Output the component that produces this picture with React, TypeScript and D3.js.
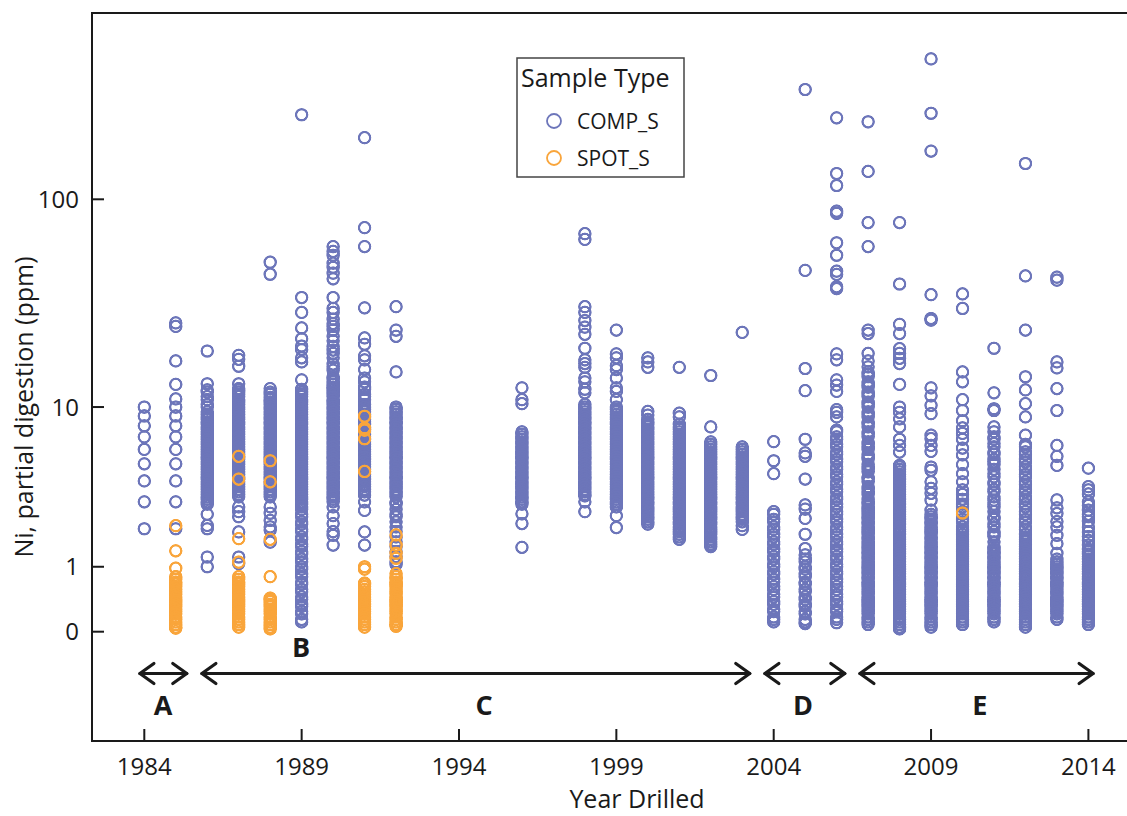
import React from "react";
import * as d3 from "d3";

// ---------------- data ----------------
const xTickValues = [1984, 1989, 1994, 1999, 2004, 2009, 2014];
const yTickValues = [0, 1, 10, 100];
const yTickLabels = ["0", "1", "10", "100"];
const seriesNames = ["COMP_S", "SPOT_S"];
const seriesColors = ["#6d76ba", "#f9a53b"];

const periodNames = ["A", "B", "C", "D", "E"];
const periodLabelYears = [1984.6, 1988.98, 1994.8, 2004.93, 2010.55];
const arrowStartYears = [1983.86, 1985.83, 2003.72, 2006.74];
const arrowEndYears = [1985.35, 2003.24, 2006.26, 2014.15];

// COMP_S values (ppm) per drilling year
const comp1984 = [10, 9, 8, 7, 6, 5, 4, 3, 2];
const comp1985 = [26, 25, 17, 13, 11, 10, 9, 8, 7, 6, 5, 4, 3, 2];
const comp1986 = [19, 13.1, 12.2, 11.9, 11.3, 10.9, 10.3, 10.0, 9.45, 9.17, 8.9, 8.65, 8.39, 8.15, 7.9, 7.67, 7.44, 7.22, 7.0, 6.79, 6.59, 6.39, 6.19, 6.0, 5.82, 5.64, 5.47, 5.3, 5.13, 4.97, 4.81, 4.66, 4.51, 4.36, 4.22, 4.09, 3.95, 3.82, 3.7, 3.57, 3.45, 3.33, 3.22, 3.11, 3.0, 2.9, 2.5, 2.11, 2.0, 1.22, 1.0];
const comp1987 = [18.1, 17.3, 16, 13.1, 12.4, 12.2, 11.9, 11.6, 11.3, 10.9, 10.6, 10.3, 10.0, 9.73, 9.45, 9.17, 8.9, 8.65, 8.39, 8.15, 7.9, 7.67, 7.44, 7.22, 7.0, 6.79, 6.59, 6.39, 6.19, 6.0, 5.82, 5.64, 5.47, 5.3, 5.13, 4.97, 4.81, 4.66, 4.51, 4.36, 4.22, 4.09, 3.95, 3.82, 3.7, 3.57, 3.45, 3.33, 3.22, 2.79, 2.6, 2.41, 1.9, 1.22, 1.07];
const comp1988 = [50.6, 44.4, 12.4, 11.9, 11.6, 11.2, 10.9, 10.6, 10.3, 10.0, 9.73, 9.45, 9.17, 8.9, 8.65, 8.39, 8.15, 7.9, 7.67, 7.44, 7.22, 7.0, 6.79, 6.59, 6.39, 6.19, 6.0, 5.82, 5.64, 5.47, 5.3, 5.13, 4.97, 4.81, 4.66, 4.51, 4.36, 4.22, 4.09, 3.95, 3.82, 3.7, 3.57, 3.45, 3.33, 3.22, 2.79, 2.54, 2.28, 2.06, 1.96, 1.6];
const comp1989 = [248, 34.4, 29.2, 24.6, 21.8, 20.1, 19.3, 17.6, 16.8, 13.7, 12.3, 11.9, 11.6, 11.3, 10.9, 10.6, 10.3, 10.0, 9.73, 9.45, 9.17, 8.9, 8.65, 8.39, 8.15, 7.9, 7.67, 7.44, 7.22, 7.0, 6.79, 6.59, 6.39, 6.19, 6.0, 5.82, 5.64, 5.47, 5.3, 5.13, 4.97, 4.81, 4.66, 4.51, 4.36, 4.22, 4.09, 3.95, 3.82, 3.7, 3.57, 3.45, 3.33, 3.22, 3.11, 3.0, 2.9, 2.79, 2.69, 2.5, 2.41, 2.23, 2.15, 1.98, 1.91, 1.75, 1.68, 1.54, 1.48, 1.35, 1.29, 1.17, 1.11, 1.0, 0.95, 0.85, 0.8, 0.7, 0.66, 0.57, 0.53, 0.45, 0.41, 0.34, 0.31, 0.24, 0.21, 0.14, 0.11];
const comp1990 = [60, 56.9, 54.6, 50.1, 47.9, 44.9, 42.2, 34.4, 30.5, 29.2, 27.1, 25.8, 25, 24, 22.4, 21.3, 20, 19.2, 18.5, 17.6, 16.4, 15.9, 15.3, 14.2, 13.8, 13.4, 13.0, 12.6, 12.3, 11.9, 11.6, 11.3, 10.9, 10.6, 10.3, 10.0, 9.73, 9.45, 9.17, 8.9, 8.65, 8.39, 8.15, 7.9, 7.67, 7.44, 7.22, 7.0, 6.79, 6.59, 6.39, 6.19, 6.0, 5.82, 5.64, 5.47, 5.3, 5.13, 4.97, 4.81, 4.66, 4.51, 4.36, 4.22, 4.09, 3.95, 3.82, 3.7, 3.57, 3.45, 3.33, 3.22, 3.11, 3.0, 2.79, 2.45, 2.17, 1.91, 1.8, 1.52];
const comp1991 = [194, 73.6, 60, 30.7, 22, 20.5, 18, 17.2, 15.4, 14.0, 13.4, 12.6, 12.3, 11.6, 11.3, 10.9, 10.3, 10.0, 9.73, 9.45, 9.17, 8.9, 8.65, 8.39, 8.15, 7.9, 7.67, 7.44, 7.22, 7.0, 6.79, 6.59, 6.39, 6.19, 6.0, 5.82, 5.64, 5.47, 5.3, 5.13, 4.97, 4.81, 4.66, 4.51, 4.36, 4.22, 4.09, 3.95, 3.82, 3.7, 3.57, 3.45, 3.3, 3.0, 2.65, 1.9, 1.52];
const comp1992 = [31.1, 24, 22.4, 15, 10.0, 9.73, 9.45, 9.17, 8.9, 8.65, 8.39, 8.15, 7.9, 7.67, 7.44, 7.22, 7.0, 6.79, 6.59, 6.39, 6.19, 6.0, 5.82, 5.64, 5.47, 5.3, 5.13, 4.97, 4.81, 4.66, 4.51, 4.36, 4.22, 4.09, 3.95, 3.82, 3.7, 3.57, 3.45, 3.33, 3.22, 3.0, 2.9, 2.69, 2.5, 2.41, 2.23, 2.06, 1.91, 1.75, 1.61, 1.48, 1.35, 1.23, 1.11, 1.05];
const comp1996 = [12.5, 10.9, 10.4, 7.44, 7.22, 7.0, 6.79, 6.59, 6.39, 6.19, 6.0, 5.82, 5.64, 5.47, 5.3, 5.13, 4.97, 4.81, 4.66, 4.51, 4.36, 4.22, 4.09, 3.95, 3.82, 3.7, 3.57, 3.45, 3.33, 3.22, 3.11, 3.0, 2.9, 2.52, 2.17, 1.46];
const comp1998 = [69, 64.8, 31.1, 29.2, 26.7, 24.8, 22.9, 19.6, 17.2, 16.5, 15.8, 14.0, 13.4, 12.3, 11.8, 10.3, 10.0, 9.73, 9.45, 9.17, 8.9, 8.65, 8.39, 8.15, 7.9, 7.67, 7.44, 7.22, 7.0, 6.79, 6.59, 6.39, 6.19, 6.0, 5.82, 5.64, 5.47, 5.3, 5.13, 4.97, 4.81, 4.66, 4.51, 4.36, 4.22, 4.09, 3.95, 3.82, 3.7, 3.57, 3.45, 3.33, 3.26, 3.0, 2.6];
const comp1999 = [24, 18.4, 17.6, 16.1, 15.4, 14.0, 12.5, 12.0, 10.9, 10.0, 9.73, 9.45, 9.17, 8.9, 8.65, 8.39, 8.15, 7.9, 7.67, 7.44, 7.22, 7.0, 6.79, 6.59, 6.39, 6.19, 6.0, 5.82, 5.64, 5.47, 5.3, 5.13, 4.97, 4.81, 4.66, 4.51, 4.36, 4.22, 4.09, 3.95, 3.82, 3.7, 3.57, 3.45, 3.33, 3.22, 3.11, 3.0, 2.9, 2.79, 2.45, 2.04];
const comp2000 = [17.6, 16.8, 15.8, 9.5, 9.1, 8.65, 8.39, 8.15, 7.9, 7.67, 7.44, 7.22, 7.0, 6.79, 6.59, 6.39, 6.19, 6.0, 5.82, 5.64, 5.47, 5.3, 5.13, 4.97, 4.81, 4.66, 4.51, 4.36, 4.22, 4.09, 3.95, 3.82, 3.7, 3.57, 3.45, 3.33, 3.22, 3.11, 3.0, 2.9, 2.79, 2.69, 2.6, 2.5, 2.41, 2.32, 2.23, 2.15];
const comp2001 = [15.8, 9.3, 8.9, 8.15, 7.9, 7.67, 7.44, 7.22, 7.0, 6.79, 6.59, 6.39, 6.19, 6.0, 5.82, 5.64, 5.47, 5.3, 5.13, 4.97, 4.81, 4.66, 4.51, 4.36, 4.22, 4.09, 3.95, 3.82, 3.7, 3.57, 3.45, 3.33, 3.22, 3.11, 3.0, 2.9, 2.79, 2.69, 2.6, 2.5, 2.41, 2.32, 2.23, 2.15, 2.06, 1.98, 1.91, 1.83, 1.75, 1.68];
const comp2002 = [14.4, 7.9, 6.59, 6.39, 6.19, 6.0, 5.82, 5.64, 5.47, 5.3, 5.13, 4.97, 4.81, 4.66, 4.51, 4.36, 4.22, 4.09, 3.95, 3.82, 3.7, 3.57, 3.45, 3.33, 3.22, 3.11, 3.0, 2.9, 2.79, 2.69, 2.6, 2.5, 2.41, 2.32, 2.23, 2.15, 2.06, 1.98, 1.91, 1.83, 1.75, 1.68, 1.61, 1.54, 1.48];
const comp2003 = [23.4, 6.19, 6.0, 5.82, 5.64, 5.47, 5.3, 5.13, 4.97, 4.81, 4.66, 4.51, 4.36, 4.22, 4.09, 3.95, 3.82, 3.7, 3.57, 3.45, 3.33, 3.22, 3.11, 3.0, 2.9, 2.79, 2.69, 2.6, 2.5, 2.41, 2.32, 2.23, 2.1, 1.98];
const comp2004 = [6.6, 5.2, 4.4, 2.6, 2.5, 2.32, 2.23, 2.06, 1.98, 1.83, 1.75, 1.61, 1.54, 1.41, 1.35, 1.23, 1.17, 1.05, 1.0, 0.9, 0.85, 0.75, 0.7, 0.62, 0.57, 0.49, 0.45, 0.38, 0.34, 0.27, 0.24, 0.17, 0.14, 0.11];
const comp2005 = [325, 46.3, 15.6, 12.1, 6.8, 5.74, 5.5, 4.1, 2.87, 2.7, 2.35, 1.83, 1.43, 1.27, 1.17, 1.11, 1.0, 0.95, 0.85, 0.8, 0.7, 0.66, 0.57, 0.53, 0.45, 0.41, 0.34, 0.31, 0.24, 0.21, 0.14, 0.11, 0.09];
const comp2006 = [240, 132, 116, 88, 86, 62.5, 54.6, 45.9, 44.3, 38.7, 37.9, 18.4, 17.2, 13.7, 12.9, 12.0, 9.7, 9.4, 8.9, 7.6, 7.44, 7.0, 6.79, 6.39, 6.19, 5.82, 5.64, 5.3, 5.13, 4.81, 4.66, 4.36, 4.22, 3.95, 3.82, 3.57, 3.45, 3.22, 3.11, 2.9, 2.79, 2.6, 2.5, 2.32, 2.23, 2.06, 1.98, 1.83, 1.75, 1.61, 1.54, 1.41, 1.35, 1.23, 1.17, 1.05, 1.0, 0.9, 0.85, 0.75, 0.7, 0.62, 0.57, 0.49, 0.45, 0.38, 0.34, 0.27, 0.24, 0.17, 0.14, 0.1];
const comp2007 = [230, 135, 77.8, 60, 24, 23.1, 18.5, 17.0, 15.9, 15.0, 14.6, 14.2, 13.4, 13.0, 12.6, 11.9, 11.6, 11.3, 10.6, 10.3, 10.0, 9.45, 9.17, 8.9, 8.39, 8.15, 7.9, 7.44, 7.22, 7.0, 6.59, 6.39, 6.19, 6.0, 5.64, 5.47, 5.3, 4.97, 4.81, 4.66, 4.51, 4.22, 4.09, 3.95, 3.7, 3.57, 3.45, 3.33, 3.11, 3.0, 2.9, 2.79, 2.69, 2.6, 2.5, 2.41, 2.32, 2.23, 2.15, 2.06, 1.98, 1.91, 1.83, 1.75, 1.68, 1.61, 1.54, 1.48, 1.41, 1.35, 1.29, 1.23, 1.17, 1.11, 1.05, 1.0, 0.95, 0.9, 0.85, 0.8, 0.75, 0.7, 0.66, 0.62, 0.57, 0.53, 0.49, 0.45, 0.41, 0.38, 0.34, 0.31, 0.27, 0.24, 0.21, 0.17, 0.14, 0.11, 0.08];
const comp2008 = [77.8, 39.9, 25.6, 23.1, 19.5, 18.5, 17.5, 16.5, 13.0, 10.0, 9.4, 8.7, 7.9, 6.8, 6.3, 5.8, 4.9, 4.81, 4.66, 4.51, 4.36, 4.22, 4.09, 3.95, 3.82, 3.7, 3.57, 3.45, 3.33, 3.22, 3.11, 3.0, 2.9, 2.79, 2.69, 2.6, 2.5, 2.41, 2.32, 2.23, 2.15, 2.06, 1.98, 1.91, 1.83, 1.75, 1.68, 1.61, 1.54, 1.48, 1.41, 1.35, 1.29, 1.23, 1.17, 1.11, 1.05, 1.0, 0.95, 0.9, 0.85, 0.8, 0.75, 0.7, 0.66, 0.62, 0.57, 0.53, 0.49, 0.45, 0.41, 0.38, 0.34, 0.31, 0.27, 0.24, 0.21, 0.17, 0.14, 0.11, 0.08, 0.05, 0.03];
const comp2009 = [451, 252, 168, 35.5, 27.3, 26.8, 12.5, 11.4, 10.2, 9.25, 7.15, 6.85, 6.3, 5.85, 4.8, 4.6, 3.95, 3.62, 3.38, 3.07, 2.66, 2.5, 2.41, 2.32, 2.23, 2.15, 2.06, 1.98, 1.91, 1.83, 1.75, 1.68, 1.61, 1.54, 1.48, 1.41, 1.35, 1.29, 1.23, 1.17, 1.11, 1.05, 1.0, 0.95, 0.9, 0.85, 0.8, 0.75, 0.7, 0.66, 0.62, 0.57, 0.53, 0.49, 0.45, 0.41, 0.38, 0.34, 0.31, 0.27, 0.24, 0.21, 0.17, 0.14, 0.11, 0.08, 0.05];
const comp2010 = [35.8, 30.5, 15.0, 13.4, 10.9, 9.6, 8.5, 7.8, 7.3, 6.8, 6.1, 5.6, 4.95, 4.4, 3.95, 3.54, 3.33, 3.11, 2.9, 2.79, 2.6, 2.5, 2.32, 2.23, 2.06, 1.98, 1.91, 1.83, 1.75, 1.68, 1.61, 1.54, 1.48, 1.41, 1.35, 1.29, 1.23, 1.17, 1.11, 1.05, 1.0, 0.95, 0.9, 0.85, 0.8, 0.75, 0.7, 0.66, 0.62, 0.57, 0.53, 0.49, 0.45, 0.41, 0.38, 0.34, 0.31, 0.27, 0.24, 0.21, 0.17, 0.14, 0.11, 0.08];
const comp2011 = [19.6, 11.8, 9.8, 9.6, 7.9, 7.45, 7.0, 6.79, 6.45, 6.19, 5.82, 5.64, 5.3, 5.13, 4.95, 4.66, 4.4, 4.22, 3.95, 3.82, 3.57, 3.45, 3.22, 3.07, 2.9, 2.79, 2.6, 2.41, 2.32, 2.15, 2.06, 1.91, 1.83, 1.76, 1.61, 1.48, 1.41, 1.35, 1.29, 1.23, 1.17, 1.11, 1.05, 1.0, 0.95, 0.9, 0.85, 0.8, 0.75, 0.7, 0.66, 0.62, 0.57, 0.53, 0.49, 0.45, 0.41, 0.38, 0.34, 0.31, 0.27, 0.24, 0.21, 0.17, 0.14, 0.11];
const comp2012 = [147, 43.6, 24, 14.2, 12.2, 10.4, 8.9, 7.15, 6.39, 6.19, 5.82, 5.64, 5.3, 5.13, 4.81, 4.66, 4.36, 4.22, 3.95, 3.82, 3.57, 3.45, 3.22, 3.11, 2.9, 2.79, 2.6, 2.5, 2.32, 2.23, 2.06, 1.98, 1.83, 1.75, 1.68, 1.61, 1.54, 1.48, 1.41, 1.35, 1.29, 1.23, 1.17, 1.11, 1.05, 1.0, 0.95, 0.9, 0.85, 0.8, 0.75, 0.7, 0.66, 0.62, 0.57, 0.53, 0.49, 0.45, 0.41, 0.38, 0.34, 0.31, 0.27, 0.24, 0.21, 0.17, 0.14, 0.11, 0.08, 0.05];
const comp2013 = [43, 41.6, 16.8, 15.7, 12.4, 9.6, 6.3, 5.5, 4.9, 3.08, 2.75, 2.53, 2.24, 2.06, 1.8, 1.56, 1.31, 1.17, 1.11, 1.05, 1.0, 0.95, 0.9, 0.85, 0.8, 0.75, 0.7, 0.66, 0.62, 0.57, 0.53, 0.49, 0.45, 0.41, 0.38, 0.34, 0.31, 0.27, 0.24, 0.21, 0.17, 0.14];
const comp2014 = [4.73, 3.7, 3.54, 3.35, 3.0, 2.85, 2.66, 2.5, 2.41, 2.25, 2.06, 1.9, 1.76, 1.65, 1.52, 1.41, 1.35, 1.29, 1.23, 1.17, 1.11, 1.05, 1.0, 0.95, 0.9, 0.85, 0.8, 0.75, 0.7, 0.66, 0.62, 0.57, 0.53, 0.49, 0.45, 0.41, 0.38, 0.34, 0.31, 0.27, 0.24, 0.21, 0.17, 0.14, 0.11, 0.08];

// SPOT_S values (ppm) per drilling year
const spot1985 = [2.1, 1.37, 0.97, 0.8, 0.75, 0.7, 0.66, 0.62, 0.57, 0.53, 0.49, 0.45, 0.41, 0.38, 0.34, 0.31, 0.27, 0.24, 0.21, 0.17, 0.14, 0.11, 0.08, 0.05, 0.04];
const spot1987 = [5.5, 4.1, 1.7, 1.1, 0.8, 0.75, 0.7, 0.66, 0.62, 0.57, 0.53, 0.49, 0.45, 0.41, 0.38, 0.34, 0.31, 0.27, 0.24, 0.21, 0.17, 0.14, 0.11, 0.08, 0.05];
const spot1988 = [5.2, 3.95, 1.68, 0.8, 0.43, 0.41, 0.38, 0.34, 0.31, 0.27, 0.24, 0.21, 0.17, 0.14, 0.11, 0.08, 0.05, 0.03];
const spot1991 = [8.97, 7.79, 7.6, 6.84, 4.53, 1.0, 0.95, 0.68, 0.66, 0.62, 0.57, 0.53, 0.49, 0.45, 0.41, 0.38, 0.34, 0.31, 0.27, 0.24, 0.21, 0.17, 0.14, 0.11, 0.08, 0.05];
const spot1992 = [1.81, 1.52, 1.31, 1.19, 0.86, 0.8, 0.75, 0.7, 0.66, 0.62, 0.57, 0.53, 0.49, 0.45, 0.41, 0.38, 0.34, 0.31, 0.27, 0.24, 0.21, 0.17, 0.14, 0.11, 0.08, 0.06];
const spot2010 = [2.55];

const compColumns: [number, number[]][] = [
  [1984, comp1984], [1985, comp1985], [1986, comp1986], [1987, comp1987], [1988, comp1988],
  [1989, comp1989], [1990, comp1990], [1991, comp1991], [1992, comp1992], [1996, comp1996],
  [1998, comp1998], [1999, comp1999], [2000, comp2000], [2001, comp2001], [2002, comp2002],
  [2003, comp2003], [2004, comp2004], [2005, comp2005], [2006, comp2006], [2007, comp2007],
  [2008, comp2008], [2009, comp2009], [2010, comp2010], [2011, comp2011], [2012, comp2012],
  [2013, comp2013], [2014, comp2014],
];
const spotColumns: [number, number[]][] = [
  [1985, spot1985], [1987, spot1987], [1988, spot1988], [1991, spot1991], [1992, spot1992], [2010, spot2010],
];

// ---------------- layout ----------------
const W = 1127;
const H = 816;
const plotLeft = 92;
const plotTop = 13;
const plotBottom = 741;
const plotRight = 1140;
const FONT = "'Open Sans', 'Noto Sans', 'DejaVu Sans', sans-serif";
const INK = "#1a1a1a";

const x = d3.scaleLinear().domain([1984, 2014]).range([144.3, 1088.4]);
const y = d3.scaleSymlog().constant(1).domain([0, 100]).range([631.7, 199.3]);

const R = 5.6;
const SW = 2.0;

function flatten(cols: [number, number[]][]) {
  const out: { yr: number; v: number }[] = [];
  cols.forEach(([yr, vals]) => vals.forEach((v) => out.push({ yr, v })));
  return out;
}

const compPts = flatten(compColumns);
const spotPts = flatten(spotColumns);

function Arrow({ x1, x2, yy }: { x1: number; x2: number; yy: number }) {
  const hx = 14;
  const hy = 10;
  return (
    <g stroke={INK} strokeWidth={3.2} fill="none" strokeLinecap="round" strokeLinejoin="round">
      <line x1={x1} y1={yy} x2={x2} y2={yy} />
      <polyline points={`${x1 + hx},${yy - hy} ${x1},${yy} ${x1 + hx},${yy + hy}`} />
      <polyline points={`${x2 - hx},${yy - hy} ${x2},${yy} ${x2 - hx},${yy + hy}`} />
    </g>
  );
}

export default function App() {
  const arrowY = 673.5;
  return (
    <svg
      width={W}
      height={H}
      viewBox={`0 0 ${W} ${H}`}
      style={{ position: "absolute", left: 0, top: 0, background: "#fff" }}
      fontFamily={FONT}
    >
      <defs>
        <filter
          id="solidify"
          filterUnits="userSpaceOnUse"
          x={0}
          y={0}
          width={W}
          height={H}
          colorInterpolationFilters="sRGB"
        >
          <feComponentTransfer>
            <feFuncA type="linear" slope={1.4} intercept={0} />
          </feComponentTransfer>
        </filter>
      </defs>
      <rect x={0} y={0} width={W} height={H} fill="#fff" />

      {/* points */}
      <g fill="none" strokeWidth={SW} filter="url(#solidify)">
        {compPts.map((p, i) => (
          <circle key={"c" + i} cx={x(p.yr)} cy={y(p.v)} r={R} stroke={seriesColors[0]} />
        ))}
      </g>
      <g fill="none" strokeWidth={SW} filter="url(#solidify)">
        {spotPts.map((p, i) => (
          <circle key={"s" + i} cx={x(p.yr)} cy={y(p.v)} r={R} stroke={seriesColors[1]} />
        ))}
      </g>

      {/* frame */}
      <path
        d={`M${plotRight},${plotTop} H${plotLeft} V${plotBottom} H${plotRight}`}
        fill="none"
        stroke={INK}
        strokeWidth={2}
      />

      {/* y ticks */}
      {yTickValues.map((v, i) => (
        <g key={"yt" + v}>
          <line x1={plotLeft} x2={plotLeft + 12} y1={y(v)} y2={y(v)} stroke={INK} strokeWidth={2} />
          <text x={79} y={y(v)} dy="0.36em" textAnchor="end" fontSize={24} fill={INK}>
            {yTickLabels[i]}
          </text>
        </g>
      ))}

      {/* x ticks */}
      {xTickValues.map((v) => (
        <g key={"xt" + v}>
          <line x1={x(v)} x2={x(v)} y1={plotBottom} y2={plotBottom - 12} stroke={INK} strokeWidth={2} />
          <text x={x(v)} y={775} textAnchor="middle" fontSize={24} fill={INK}>
            {v}
          </text>
        </g>
      ))}

      {/* axis titles */}
      <text x={637} y={808} textAnchor="middle" fontSize={25} fill={INK}>
        Year Drilled
      </text>
      <text
        transform={`translate(33,407) rotate(-90)`}
        textAnchor="middle"
        fontSize={25}
        fill={INK}
      >
        Ni, partial digestion (ppm)
      </text>

      {/* period arrows */}
      {arrowStartYears.map((s, i) => (
        <Arrow key={"ar" + i} x1={x(s)} x2={x(arrowEndYears[i])} yy={arrowY} />
      ))}
      {periodNames.map((n, i) => (
        <text
          key={"pl" + n}
          x={x(periodLabelYears[i])}
          y={n === "B" ? 657 : 715}
          textAnchor="middle"
          fontSize={27}
          fontWeight={700}
          fill={INK}
        >
          {n}
        </text>
      ))}

      {/* legend */}
      <g>
        <rect x={517} y={58} width={167} height={119} fill="#fff" stroke="#444" strokeWidth={1.5} />
        <text x={521} y={87} fontSize={25} fill={INK}>
          Sample Type
        </text>
        {seriesNames.map((s, i) => (
          <g key={"lg" + s}>
            <circle cx={554} cy={121 + i * 37} r={7} fill="none" stroke={seriesColors[i]} strokeWidth={1.8} />
            <text x={577} y={121 + i * 37} dy="0.36em" fontSize={21} fill={INK}>
              {s}
            </text>
          </g>
        ))}
      </g>
    </svg>
  );
}
